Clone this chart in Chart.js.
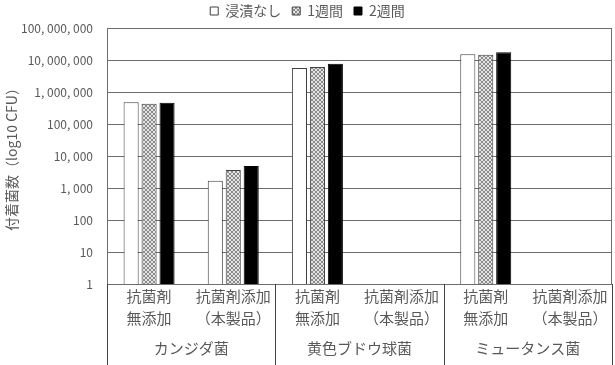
<!DOCTYPE html>
<html>
<head>
<meta charset="utf-8">
<script src="https://cdn.jsdelivr.net/npm/chart.js@4.4.0/dist/chart.umd.min.js"></script>
<style>
  html, body { margin: 0; padding: 0; background: #fff; }
  #wrap { width: 615px; height: 365px; }
</style>
</head>
<body>
<div id="wrap"><canvas id="myChart"></canvas></div>
<script>
// Data
var subLabels = [
    ['抗菌剤', '無添加'], ['抗菌剤添加', '（本製品）'],
    ['抗菌剤', '無添加'], ['抗菌剤添加', '（本製品）'],
    ['抗菌剤', '無添加'], ['抗菌剤添加', '（本製品）']
];
var groupLabels = ['カンジダ菌', '黄色ブドウ球菌', 'ミュータンス菌'];
var seriesNames = ['浸漬なし', '1週間', '2週間'];
var noSoak = [480000, 1700, 5600000, null, 15000000, null];
var week1 = [430000, 3650, 6000000, null, 14500000, null];
var week2 = [460000, 4900, 7700000, null, 17500000, null];
var yTicks = [1, 10, 100, 1000, 10000, 100000, 1000000, 10000000, 100000000];

var textColor = '#595959';
var lineColor = '#6e6e6e';
var fontFamily = '"Noto Sans CJK JP", "Noto Sans", sans-serif';

// hatched fill for the 1 week series
function makeHatch() {
    var c = document.createElement('canvas');
    c.width = 4; c.height = 4;
    var g = c.getContext('2d');
    g.fillStyle = '#e4e4e4';
    g.fillRect(0, 0, 4, 4);
    g.fillStyle = '#8a8a8a';
    for (var i = 0; i < 4; i++) {
        g.fillRect(i, i, 1, 1);
        g.fillRect(3 - i, i, 1, 1);
    }
    return g.createPattern(c, 'repeat');
}

var ctx = document.getElementById('myChart').getContext('2d');

// lines between the groups below the plot, plus the right frame
var separators = {
    id: 'separators',
    afterDraw: function(chart) {
        var a = chart.chartArea;
        var c = chart.ctx;
        var step = (a.right - a.left) / groupLabels.length;
        c.save();
        c.strokeStyle = '#404040';
        c.lineWidth = 1;
        c.beginPath();
        for (var i = 0; i <= groupLabels.length; i++) {
            var x = Math.round(a.left + i * step) + 0.5;
            c.moveTo(x, a.bottom);
            c.lineTo(x, chart.height);
        }
        c.stroke();
        c.strokeStyle = lineColor;
        c.beginPath();
        c.moveTo(Math.round(a.right) - 0.5, a.top);
        c.lineTo(Math.round(a.right) - 0.5, a.bottom);
        c.stroke();
        c.restore();
    }
};

var data = {
    labels: subLabels,
    datasets: [{
        label: seriesNames[0],
        data: noSoak,
        backgroundColor: '#ffffff',
        borderColor: '#404040',
        borderWidth: 1
    }, {
        label: seriesNames[1],
        data: week1,
        backgroundColor: makeHatch(),
        borderColor: '#404040',
        borderWidth: 1
    }, {
        label: seriesNames[2],
        data: week2,
        backgroundColor: '#000000',
        borderColor: '#000000',
        borderWidth: 1
    }]
};

var options = {
    responsive: true,
    maintainAspectRatio: false,
    animation: false,
    datasets: {
        bar: {
            categoryPercentage: 0.64,
            barPercentage: 0.84
        }
    },
    layout: {
        padding: { left: 3, right: 3, top: -7, bottom: 8 }
    },
    scales: {
        x: {
            type: 'category',
            grid: { display: true, drawOnChartArea: false, drawTicks: false, color: lineColor },
            border: { display: true, color: lineColor },
            ticks: {
                color: textColor,
                padding: 1,
                maxRotation: 0,
                autoSkip: false,
                font: { family: fontFamily, size: 15, lineHeight: 1.5 }
            }
        },
        x2: {
            type: 'category',
            labels: groupLabels,
            position: 'bottom',
            offset: true,
            grid: { display: false },
            border: { display: false },
            ticks: {
                color: textColor,
                padding: 0,
                font: { family: fontFamily, size: 15 }
            }
        },
        y: {
            type: 'logarithmic',
            min: 1,
            max: 100000000,
            afterBuildTicks: function(scale) {
                scale.ticks = yTicks.map(function(v) { return { value: v }; });
            },
            afterFit: function(scale) {
                scale.width = 104;
            },
            grid: { color: lineColor, drawTicks: false },
            border: { display: true, color: lineColor },
            ticks: {
                color: textColor,
                padding: 14,
                font: { family: fontFamily, size: 12 },
                callback: function(value) {
                    return Number(value).toLocaleString('en-US').replace(/,/g, ', ');
                }
            },
            title: {
                display: true,
                text: '付着菌数（log10 CFU）',
                color: textColor,
                padding: { top: 0, bottom: 2 },
                font: { family: fontFamily, size: 14 }
            }
        }
    },
    plugins: {
        legend: {
            position: 'top',
            labels: {
                color: textColor,
                boxWidth: 8,
                boxHeight: 8,
                padding: 11,
                font: { family: fontFamily, size: 14 }
            }
        },
        tooltip: { enabled: false }
    }
};

var myChart = new Chart(ctx, {
    type: 'bar',
    data: data,
    options: options,
    plugins: [separators]
});
</script>
</body>
</html>
